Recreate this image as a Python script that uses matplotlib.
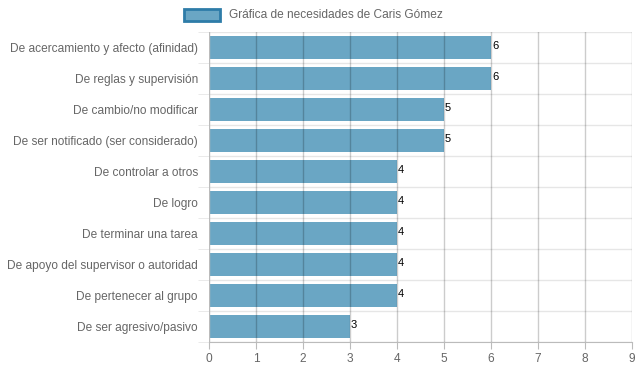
import matplotlib
matplotlib.use('Agg')
import matplotlib.pyplot as plt
import numpy as np
from matplotlib.patches import Rectangle

plt.rcParams['font.family'] = ['Liberation Sans', 'DejaVu Sans']

# ─── DATA ─────────────────────────────────────────────────────────────────────
categories = [
    "De acercamiento y afecto (afinidad)",
    "De reglas y supervisión",
    "De cambio/no modificar",
    "De ser notificado (ser considerado)",
    "De controlar a otros",
    "De logro",
    "De terminar una tarea",
    "De apoyo del supervisor o autoridad",
    "De pertenecer al grupo",
    "De ser agresivo/pasivo",
]
values = [6, 6, 5, 5, 4, 4, 4, 4, 4, 3]
x_ticks = list(range(10))
series_label = "Gráfica de necesidades de Caris Gómez"

BAR = '#6aa6c4'
TXT = '#666666'

fig = plt.figure(figsize=(6.39, 3.72), dpi=100)
ax = fig.add_axes([209/639, 1 - 342/372, 423/639, 310/372])

y = np.arange(len(categories))
ax.barh(y, values, height=0.72, color=BAR, zorder=2)

for yi, v in zip(y, values):
    ax.text(v + 0.02, yi - 0.05, str(v), ha='left', va='center',
            fontsize=8, color='black', zorder=4)

ax.set_xlim(0, 9)
ax.set_ylim(len(categories) - 0.5, -0.5)
ax.set_xticks(x_ticks)
ax.set_yticks(y)
ax.set_yticklabels(categories)
ax.set_yticks(np.arange(-0.5, len(categories), 1.0), minor=True)

# vertical grid over bars (semi transparent), horizontal grid light
for xv in x_ticks[1:]:
    ax.axvline(xv, color=(0, 0, 0, 0.2), lw=1, zorder=3)
ax.grid(axis='y', which='minor', color='#e6e6e6', lw=1, zorder=1)

for s in ['top', 'right', 'left']:
    ax.spines[s].set_visible(False)
ax.spines['bottom'].set_color('#bbbbbb')
ax.axvline(0, color='#bbbbbb', lw=1, zorder=3)

ax.tick_params(axis='x', length=5, color='#bbbbbb', labelsize=8.6, labelcolor=TXT, pad=3)
ax.tick_params(axis='y', which='major', length=0, labelsize=8.6, labelcolor=TXT, pad=8)
ax.tick_params(axis='y', which='minor', length=8, color='#e6e6e6')

# legend
fig.patches.append(Rectangle((184/639, 1 - 21/372), 36/639, 12/372,
                             transform=fig.transFigure, facecolor=BAR,
                             edgecolor='#2e7ca8', lw=2))
fig.text(229/639, 1 - 14.5/372, series_label, ha='left', va='center',
         fontsize=8.6, color=TXT)

plt.savefig('out.png', dpi=100)
plt.close()
